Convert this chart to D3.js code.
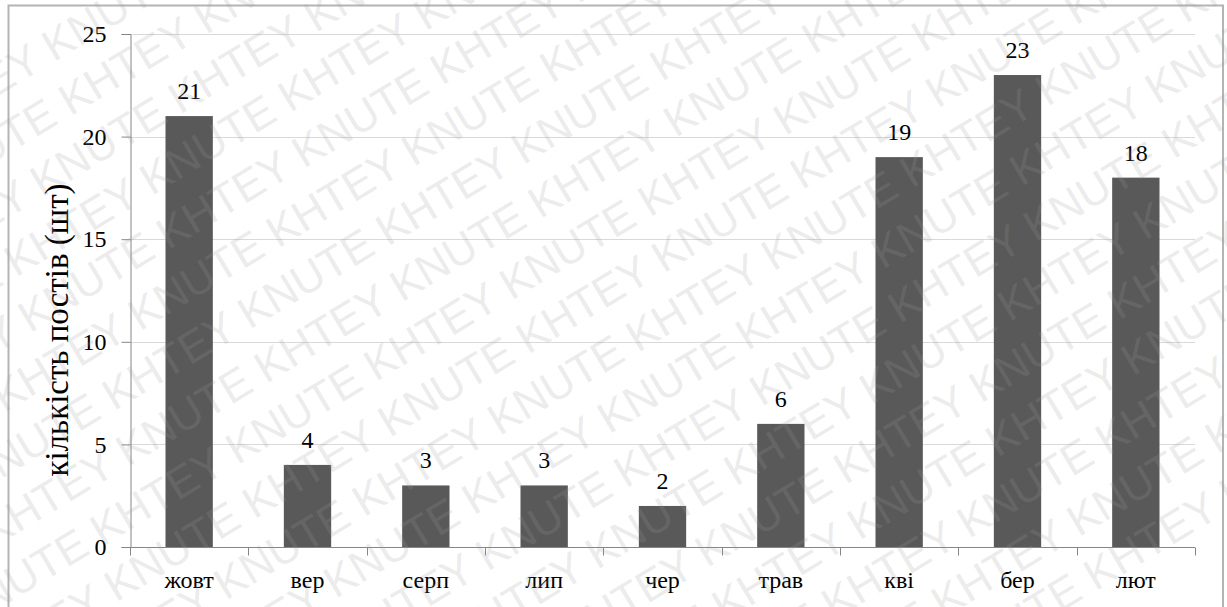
<!DOCTYPE html>
<html>
<head>
<meta charset="utf-8">
<script src="https://cdn.jsdelivr.net/npm/d3@7"></script>
<style>
  html, body { margin: 0; padding: 0; background: #fff; }
  svg { display: block; }
  .serif { font-family: "Liberation Serif", "Times New Roman", Times, Tinos, "Nimbus Roman", FreeSerif, "DejaVu Serif", serif; }
</style>
</head>
<body>
<svg id="chart" width="1227" height="607"></svg>
<script>
// Posts per month
const months = ["жовт", "вер", "серп", "лип", "чер", "трав", "кві", "бер", "лют"];
const posts = [21, 4, 3, 3, 2, 6, 19, 23, 18];
const yTicks = [0, 5, 10, 15, 20, 25];
const yTitle = "кількість постів (шт)";
const watermarkWords = ["KNUTE", "KHTEY"];

const W = 1227, H = 607;
const plot = { left: 130, right: 1195, top: 34, bottom: 547 };

const svg = d3.select("#chart");

// Outer chart frame
svg.append("rect")
  .attr("x", 8.5).attr("y", 5.5)
  .attr("width", 1223 - 8.5).attr("height", H + 20)
  .attr("fill", "#fff")
  .attr("stroke", "#b4b4b4").attr("stroke-width", 2);

const x = d3.scaleBand().domain(months).range([plot.left, plot.right]).padding(0);
const y = d3.scaleLinear().domain([0, 25]).range([plot.bottom, plot.top]);

// Horizontal gridlines
svg.append("g")
  .selectAll("line")
  .data(yTicks.filter(d => d > 0))
  .join("line")
  .attr("x1", plot.left).attr("x2", plot.right)
  .attr("y1", d => Math.round(y(d)) + 0.5).attr("y2", d => Math.round(y(d)) + 0.5)
  .attr("stroke", "#d9d9d9").attr("stroke-width", 1);

// Bars (bar width is 40% of the category slot)
const barW = x.bandwidth() * 0.4;
const rows = months.map((m, i) => ({ m, v: posts[i] }));
svg.append("g")
  .selectAll("rect")
  .data(rows)
  .join("rect")
  .attr("x", d => x(d.m) + (x.bandwidth() - barW) / 2)
  .attr("y", d => y(d.v))
  .attr("width", barW)
  .attr("height", d => y(0) - y(d.v))
  .attr("fill", "#595959");

// Value labels
svg.append("g")
  .selectAll("text")
  .data(rows)
  .join("text")
  .attr("class", "serif")
  .attr("x", d => x(d.m) + x.bandwidth() / 2)
  .attr("y", d => y(d.v) - 17)
  .attr("text-anchor", "middle")
  .attr("font-size", 24)
  .attr("fill", "#000")
  .text(d => d.v);

// Y axis
const yAxis = d3.axisLeft(y).tickValues(yTicks).tickSize(9).tickPadding(15);
const gy = svg.append("g")
  .attr("transform", `translate(${plot.left + 0.5},0)`)
  .call(yAxis)
  .attr("font-family", null);
gy.select(".domain").attr("stroke", "#868686");
gy.selectAll(".tick line").attr("stroke", "#868686");
gy.selectAll(".tick text")
  .attr("class", "serif").attr("font-size", 24).attr("fill", "#000");

// X axis: ticks sit on category boundaries
const gx = svg.append("g")
  .attr("transform", `translate(0,${plot.bottom + 0.5})`);
gx.append("line")
  .attr("x1", plot.left).attr("x2", plot.right)
  .attr("stroke", "#868686");
gx.selectAll(".bound")
  .data(d3.range(months.length + 1))
  .join("line")
  .attr("class", "bound")
  .attr("x1", i => Math.round(plot.left + i * x.step()) + 0.5)
  .attr("x2", i => Math.round(plot.left + i * x.step()) + 0.5)
  .attr("y1", 0).attr("y2", 8)
  .attr("stroke", "#868686");
gx.selectAll(".cat")
  .data(months)
  .join("text")
  .attr("class", "cat serif")
  .attr("x", d => x(d) + x.bandwidth() / 2)
  .attr("y", 40)
  .attr("text-anchor", "middle")
  .attr("font-size", 24)
  .attr("fill", "#000")
  .text(d => d);

// Y axis title
svg.append("text")
  .attr("class", "serif")
  .attr("transform", `translate(68,330) rotate(-90)`)
  .attr("text-anchor", "middle")
  .attr("font-size", 33)
  .attr("fill", "#000")
  .text(yTitle);

// Diagonal watermark over the whole sheet
const wm = svg.append("g")
  .attr("transform", `translate(${W / 2},${H / 2}) rotate(-31)`)
  .attr("pointer-events", "none");
const line = d3.range(14).map(i => watermarkWords[i % 2]).join(" ");
wm.selectAll("text")
  .data(d3.range(-9, 10))
  .join("text")
  .attr("x", i => -900 + ((i * 95) % 270 + 270) % 270)
  .attr("y", i => i * 55)
  .attr("font-family", "'Liberation Sans', Arial, sans-serif")
  .attr("font-size", 44)
  .attr("fill", "#9b9b9b")
  .attr("fill-opacity", 0.2)
  .text(line);
</script>
</body>
</html>
